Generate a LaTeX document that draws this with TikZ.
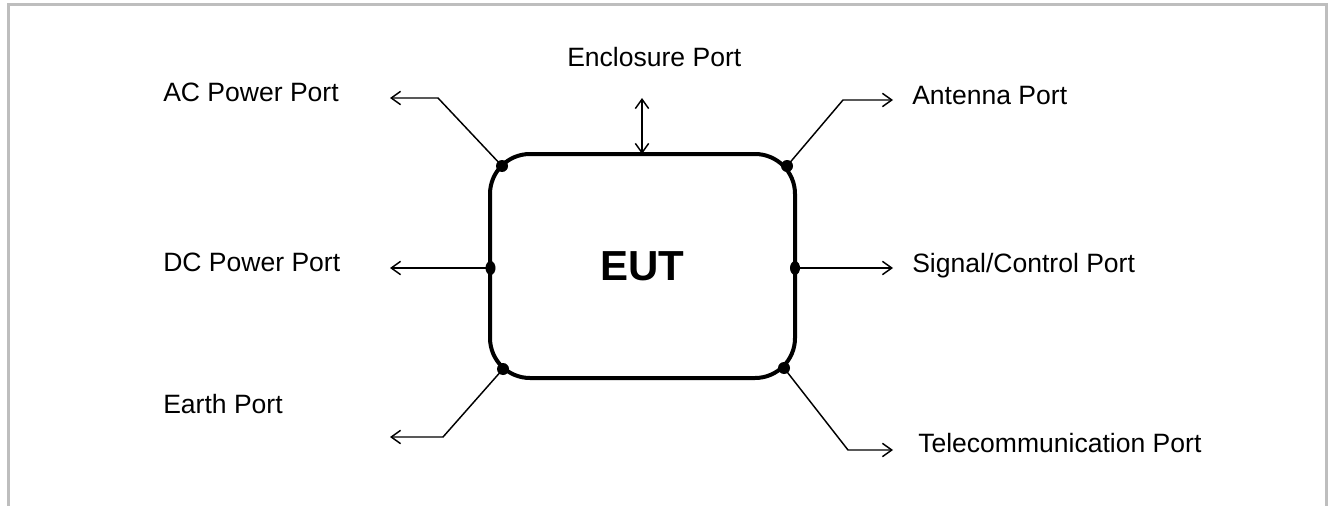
\documentclass[tikz,border=0pt]{standalone}
\usepackage{fontspec}
\setmainfont{Liberation Sans}
\usetikzlibrary{arrows.meta}
\definecolor{framegray}{RGB}{190,190,190}
\tikzset{
  lbl/.style={anchor=base west, inner sep=0pt, font=\fontsize{19.9}{24}\selectfont},
  wire/.style={line width=1.1pt, line join=miter},
  tip/.style={-{Straight Barb[length=7pt,width=10pt,line width=1.1pt]}},
  dtip/.style={{Straight Barb[length=7pt,width=10pt,line width=1.1pt]}-{Straight Barb[length=7pt,width=10pt,line width=1.1pt]}},
  portdot/.style={fill=black, draw=none, ellipse, inner sep=0pt},
}
\usetikzlibrary{shapes.geometric}
\begin{document}
\begin{tikzpicture}[x=0.75pt,y=-0.75pt]
\useasboundingbox (0,0) rectangle (1333,506);
% frame
\draw[framegray, line width=2.25pt] (8,506) -- (8,5) -- (1326.5,5) -- (1326.5,506);
% EUT box
\node[draw, line width=3pt, rounded corners=30pt, minimum width=305*0.75pt, minimum height=224*0.75pt, inner sep=0pt,
  font=\fontsize{31.5}{36}\selectfont\bfseries] (eut) at (642.5,266) {EUT};
% port points
\coordinate (pAC) at (502,166);
\coordinate (pAN) at (787,166);
\coordinate (pEA) at (502,366);
\coordinate (pTE) at (784,368);
\coordinate (pDC) at (490.5,268);
\coordinate (pSI) at (795,268);
\coordinate (pEN) at (642,154);
% dots
\node[portdot, minimum width=9pt, minimum height=9pt] (dAC) at (pAC) {};
\node[portdot, minimum width=9pt, minimum height=9pt] (dAN) at (pAN) {};
\node[portdot, minimum width=9pt, minimum height=9pt] (dEA) at (503,369) {};
\node[portdot, minimum width=9pt, minimum height=9pt] (dTE) at (pTE) {};
\node[portdot, minimum width=7.5pt, minimum height=10.5pt] (dDC) at (pDC) {};
\node[portdot, minimum width=7.5pt, minimum height=10.5pt] (dSI) at (pSI) {};
% bends and ends
\coordinate (bAC) at (438,98);
\coordinate (eAC) at (390,98);
\coordinate (bAN) at (843,100);
\coordinate (eAN) at (893,100);
\coordinate (eDC) at (390,268);
\coordinate (eSI) at (893,268);
\coordinate (bEA) at (443,437);
\coordinate (eEA) at (390,437);
\coordinate (bTE) at (848,450);
\coordinate (eTE) at (893,450);
\coordinate (eEN) at (642,98);
% connectors
\draw[wire, tip] (dAC.center) -- (bAC) -- (eAC);
\draw[wire, tip] (dAN.center) -- (bAN) -- (eAN);
\draw[wire, tip] (dDC.center) -- (eDC);
\draw[wire, tip] (dSI.center) -- (eSI);
\draw[wire, tip] (dEA.center) -- (bEA) -- (eEA);
\draw[wire, tip] (dTE.center) -- (bTE) -- (eTE);
\draw[wire, dtip] (eEN) -- (pEN);
% labels
\node[lbl] (tAC) at (163,102) {AC Power Port};
\node[lbl] (tEN) at (567,67) {Enclosure Port};
\node[lbl] (tAN) at (912,105) {Antenna Port};
\node[lbl] (tDC) at (163,271) {DC Power Port};
\node[lbl] (tSI) at (912,272) {Signal/Control Port};
\node[lbl] (tEA) at (163,413) {Earth Port};
\node[lbl] (tTE) at (918,452) {Telecommunication Port};
\end{tikzpicture}
\end{document}
